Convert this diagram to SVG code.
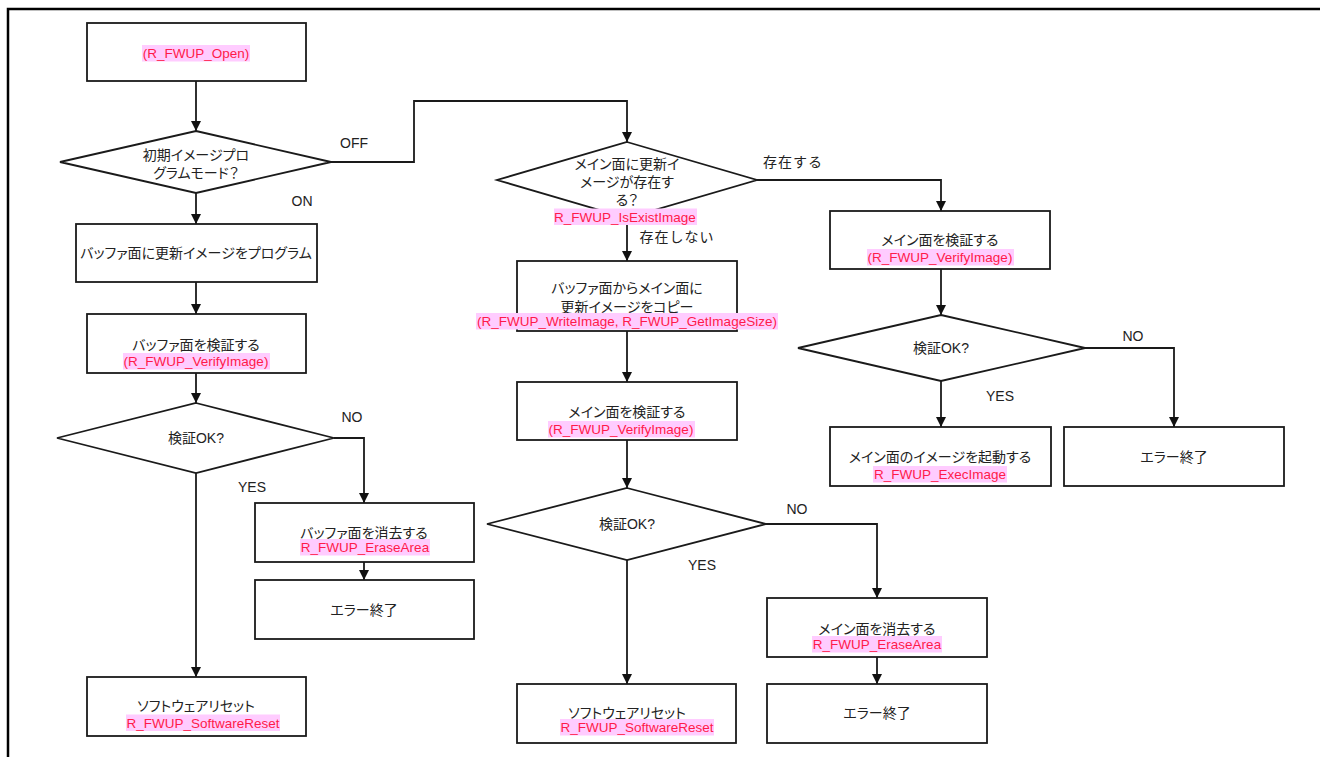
<svg xmlns="http://www.w3.org/2000/svg" width="1320" height="757" viewBox="0 0 1320 757">
  <defs>
    <marker id="arrow" markerUnits="userSpaceOnUse" markerWidth="10" markerHeight="10" refX="10" refY="5" orient="auto">
      <path d="M0,0 L10,5 L0,10 z" fill="#111"/>
    </marker>
    <style>
      .box { fill: #fff; stroke: #1a1a1a; stroke-width: 1.8; }
      .wire { fill: none; stroke: #1a1a1a; stroke-width: 1.8; marker-end: url(#arrow); }
      .frame { fill: none; stroke: #000; stroke-width: 2.5; }
      .jp { font-family: "Liberation Sans", "Noto Sans CJK JP", sans-serif; font-size: 14px; fill: #222; text-anchor: middle; font-feature-settings: "palt"; }
      .fn { font-family: "Liberation Sans", Arial, sans-serif; font-size: 13.5px; fill: #ff1a4a; text-anchor: middle; }
      .hl { fill: #ffccff; }
      .lbl { font-family: "Liberation Sans", "Noto Sans CJK JP", sans-serif; font-size: 14px; fill: #222; text-anchor: middle; }
      .lbljp { font-family: "Noto Sans CJK JP", sans-serif; font-size: 14px; fill: #222; text-anchor: middle; letter-spacing: 1px; }
    </style>
  </defs>

  <rect width="1320" height="757" fill="#fff"/>
  <path class="frame" d="M8,757 V9 H1320"/>

  <!-- connectors -->
  <g id="connectors">
    <path class="wire" d="M196,81 V131"/>
    <path class="wire" d="M196,193 V224"/>
    <path class="wire" d="M196,282 V314"/>
    <path class="wire" d="M196,373 V403"/>
    <path class="wire" d="M334,438 H364 V503"/>
    <path class="wire" d="M196,473 V677"/>
    <path class="wire" d="M364,562 V580"/>
    <path class="wire" d="M331,162 H414 V101 H627 V142"/>
    <path class="wire" d="M627,224 V261"/>
    <path class="wire" d="M627,331 V382"/>
    <path class="wire" d="M627,440 V488"/>
    <path class="wire" d="M766,524 H877 V598"/>
    <path class="wire" d="M627,560 V684"/>
    <path class="wire" d="M877,657 V684"/>
    <path class="wire" d="M757,180 H941 V211"/>
    <path class="wire" d="M941,269 V315"/>
    <path class="wire" d="M941,381 V427"/>
    <path class="wire" d="M1085,348 H1174 V427"/>

    <text class="lbl" x="354" y="148">OFF</text>
    <text class="lbl" x="302" y="206">ON</text>
    <text class="lbl" x="352" y="422">NO</text>
    <text class="lbl" x="252" y="492">YES</text>
    <text class="lbljp" x="677" y="242">存在しない</text>
    <text class="lbljp" x="793" y="167">存在する</text>
    <text class="lbl" x="797" y="514">NO</text>
    <text class="lbl" x="702" y="570">YES</text>
    <text class="lbl" x="1133" y="341">NO</text>
    <text class="lbl" x="1000" y="401">YES</text>
  </g>

  <!-- left column: buffer-side programming -->
  <g id="open">
    <rect class="box" x="87" y="23" width="219" height="58"/>
    <rect class="hl" x="142" y="45" width="108" height="16.5"/>
    <text class="fn" x="196" y="58">(R_FWUP_Open)</text>
  </g>

  <g id="initial-mode">
    <polygon class="box" points="196,131 331,162 196,193 60,162"/>
    <text class="jp" x="196" y="160">初期イメージプロ</text>
    <text class="jp" x="196" y="178">グラムモード？</text>
  </g>

  <g id="program-buffer">
    <rect class="box" x="76" y="224" width="241" height="58"/>
    <text class="jp" x="196" y="258">バッファ面に更新イメージをプログラム</text>
  </g>

  <g id="verify-buffer">
    <rect class="box" x="87" y="314" width="219" height="59"/>
    <text class="jp" x="196" y="350">バッファ面を検証する</text>
    <rect class="hl" x="123" y="353" width="147" height="16.5"/>
    <text class="fn" x="196" y="366">(R_FWUP_VerifyImage)</text>
  </g>

  <g id="buffer-ok">
    <polygon class="box" points="196,403 334,438 196,473 57,438"/>
    <text class="jp" x="196" y="443">検証OK?</text>
  </g>

  <g id="erase-buffer">
    <rect class="box" x="255" y="503" width="219" height="59"/>
    <text class="jp" x="364" y="538">バッファ面を消去する</text>
    <rect class="hl" x="300" y="539" width="130" height="16.5"/>
    <text class="fn" x="365" y="552">R_FWUP_EraseArea</text>
  </g>

  <g id="buffer-error-end">
    <rect class="box" x="255" y="580" width="219" height="59"/>
    <text class="jp" x="364" y="615">エラー終了</text>
  </g>

  <g id="buffer-reset">
    <rect class="box" x="87" y="677" width="219" height="59"/>
    <text class="jp" x="196" y="711">ソフトウェアリセット</text>
    <rect class="hl" x="126" y="714.5" width="154" height="16.5"/>
    <text class="fn" x="203" y="727.5">R_FWUP_SoftwareReset</text>
  </g>

  <!-- middle column: copy buffer image to main -->
  <g id="main-exists">
    <polygon class="box" points="627,142 757,180 627,218 497,180"/>
    <text class="jp" x="627" y="169">メイン面に更新イ</text>
    <text class="jp" x="627" y="187">メージが存在す</text>
    <text class="jp" x="627" y="205">る？</text>
    <rect class="hl" x="554" y="208.5" width="143" height="16.5"/>
    <text class="fn" x="625" y="221.5">R_FWUP_IsExistImage</text>
  </g>

  <g id="copy-to-main">
    <rect class="box" x="517" y="261" width="220" height="70"/>
    <text class="jp" x="627" y="293">バッファ面からメイン面に</text>
    <text class="jp" x="627" y="311.5">更新イメージをコピー</text>
    <rect class="hl" x="476" y="313" width="302" height="16.5"/>
    <text class="fn" x="627" y="326">(R_FWUP_WriteImage, R_FWUP_GetImageSize)</text>
  </g>

  <g id="verify-main">
    <rect class="box" x="517" y="382" width="220" height="58"/>
    <text class="jp" x="627" y="416.5">メイン面を検証する</text>
    <rect class="hl" x="548" y="421" width="147" height="16.5"/>
    <text class="fn" x="621" y="434">(R_FWUP_VerifyImage)</text>
  </g>

  <g id="main-ok">
    <polygon class="box" points="627,488 766,524 627,560 487,524"/>
    <text class="jp" x="627" y="529">検証OK?</text>
  </g>

  <g id="erase-main">
    <rect class="box" x="767" y="598" width="220" height="59"/>
    <text class="jp" x="877" y="634">メイン面を消去する</text>
    <rect class="hl" x="812" y="636" width="130" height="16.5"/>
    <text class="fn" x="877" y="649">R_FWUP_EraseArea</text>
  </g>

  <g id="main-error-end">
    <rect class="box" x="767" y="684" width="220" height="59"/>
    <text class="jp" x="877" y="718">エラー終了</text>
  </g>

  <g id="main-reset">
    <rect class="box" x="517" y="684" width="219" height="59"/>
    <text class="jp" x="627" y="717.5">ソフトウェアリセット</text>
    <rect class="hl" x="560" y="719" width="154" height="16.5"/>
    <text class="fn" x="637" y="732">R_FWUP_SoftwareReset</text>
  </g>

  <!-- right column: existing main image -->
  <g id="verify-existing">
    <rect class="box" x="830" y="211" width="220" height="58"/>
    <text class="jp" x="940" y="245">メイン面を検証する</text>
    <rect class="hl" x="867" y="249" width="147" height="16.5"/>
    <text class="fn" x="940" y="262">(R_FWUP_VerifyImage)</text>
  </g>

  <g id="existing-ok">
    <polygon class="box" points="941,315 1085,348 941,381 798,348"/>
    <text class="jp" x="941" y="353">検証OK?</text>
  </g>

  <g id="exec-image">
    <rect class="box" x="830" y="427" width="221" height="59"/>
    <text class="jp" x="940" y="461.5">メイン面のイメージを起動する</text>
    <rect class="hl" x="873" y="466" width="134" height="16.5"/>
    <text class="fn" x="940" y="479">R_FWUP_ExecImage</text>
  </g>

  <g id="existing-error-end">
    <rect class="box" x="1064" y="427" width="220" height="59"/>
    <text class="jp" x="1174" y="461.5">エラー終了</text>
  </g>
</svg>
